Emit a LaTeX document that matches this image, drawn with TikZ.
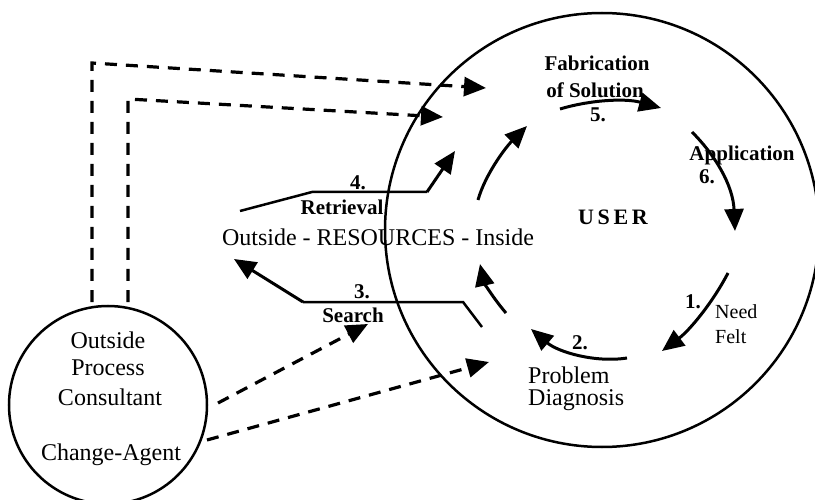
\documentclass[tikz,border=0pt]{standalone}
\usepackage{fontspec}
\setmainfont{Liberation Serif}
\usetikzlibrary{arrows.meta}
\tikzset{
  txt/.style={font=\fontsize{24}{28}\selectfont, inner sep=0pt},
  bigtxt/.style={font=\fontsize{24}{28}\selectfont, inner sep=0pt},
  lbl/.style={font=\bfseries\fontsize{21}{25}\selectfont, inner sep=0pt},
  rlbl/.style={font=\fontsize{20}{24}\selectfont, inner sep=0pt},
  ring/.style={circle, draw, line width=2.5pt, inner sep=0pt},
  arr/.style={line width=3pt, -{Triangle[length=22pt,width=19pt]}},
  dsh/.style={line width=3.2pt, dash pattern=on 12pt off 9pt, -{Triangle[length=22pt,width=19pt]}},
  pl/.style={line width=2.5pt}
}
\begin{document}
\begin{tikzpicture}[x=1pt,y=-1pt]
\useasboundingbox (0,0) rectangle (815,500);
% circles
\node[ring, minimum size=434pt] (userc) at (602,230) {};
\node[ring, minimum size=198pt] (agentc) at (108,405) {};
% texts
\node[lbl] (fab) at (597,63) {Fabrication};
\node[lbl] (sol) at (595,90) {of Solution};
\node[lbl] (n5) at (598,115) {5.};
\node[lbl] (app) at (742,155) {Application};
\node[lbl] (n6) at (707,177) {6.};
\node[font=\bfseries\fontsize{22}{26}\selectfont, inner sep=0pt] (user) at (613,217) {U\,S\,E\,R};
\node[lbl] (n4) at (358,183) {4.};
\node[lbl] (retr) at (342,207) {Retrieval};
\node[bigtxt] (res) at (378,237) {Outside - RESOURCES - Inside};
\node[lbl] (n3) at (362,292) {3.};
\node[lbl] (search) at (353,315) {Search};
\node[lbl] (n1) at (693,302) {1.};
\node[rlbl, anchor=west] (need) at (715,312) {Need};
\node[rlbl, anchor=west] (felt) at (715,337) {Felt};
\node[lbl] (n2) at (580,343) {2.};
\node[txt, anchor=west] (prob) at (528,375) {Problem};
\node[txt, anchor=west] (diag) at (528,400) {Diagnosis};
\node[txt] (out) at (108,340) {Outside};
\node[txt] (proc) at (108,368) {Process};
\node[txt] (cons) at (110,397) {Consultant};
\node[txt] (chg) at (111,455) {Change-Agent};
% coordinates
\coordinate (a5s) at (560,109);
\coordinate (a5e) at (661,108);
\coordinate (a6s) at (692,132);
\coordinate (a6e) at (735,231);
\coordinate (a1s) at (728,273);
\coordinate (a1e) at (662,351);
\coordinate (a2s) at (627,358);
\coordinate (a2e) at (531,329);
\coordinate (aus) at (506,313);
\coordinate (aue) at (480,264);
\coordinate (ups) at (478,200);
\coordinate (upe) at (527,126);
\coordinate (r0) at (240,211);
\coordinate (r1) at (312,192);
\coordinate (r2) at (427,192);
\coordinate (r3) at (455,151);
\coordinate (s0) at (482,327);
\coordinate (s1) at (463,302);
\coordinate (s2) at (303,302);
\coordinate (s3) at (234,259);
\coordinate (o0) at (92,302);
\coordinate (o1) at (92,63);
\coordinate (o2) at (486,88);
\coordinate (i0) at (128,302);
\coordinate (i1) at (128,99);
\coordinate (i2) at (443,117);
\coordinate (d1s) at (218,403);
\coordinate (d1e) at (368,324);
\coordinate (d2s) at (207,440);
\coordinate (d2e) at (489,362);
% cycle arrows
\draw[arr] (a5s) .. controls (590,100) and (625,98) .. (a5e);
\draw[arr] (a6s) .. controls (715,155) and (733,185) .. (a6e);
\draw[arr] (a1s) .. controls (713,302) and (690,330) .. (a1e);
\draw[arr] (a2s) .. controls (595,363) and (558,352) .. (a2e);
\draw[arr] (aus) .. controls (493,298) and (484,282) .. (aue);
\draw[arr] (ups) .. controls (485,175) and (505,148) .. (upe);
% retrieval and search
\draw[pl] (r0) -- (r1) -- (r2);
\draw[arr] (r2) -- (r3);
\draw[pl] (s0) -- (s1) -- (s2);
\draw[arr] (s2) -- (s3);
% dashed
\draw[dsh] (o0) -- (o1) -- (o2);
\draw[dsh] (i0) -- (i1) -- (i2);
\draw[dsh] (d1s) -- (d1e);
\draw[dsh] (d2s) -- (d2e);
\end{tikzpicture}
\end{document}
